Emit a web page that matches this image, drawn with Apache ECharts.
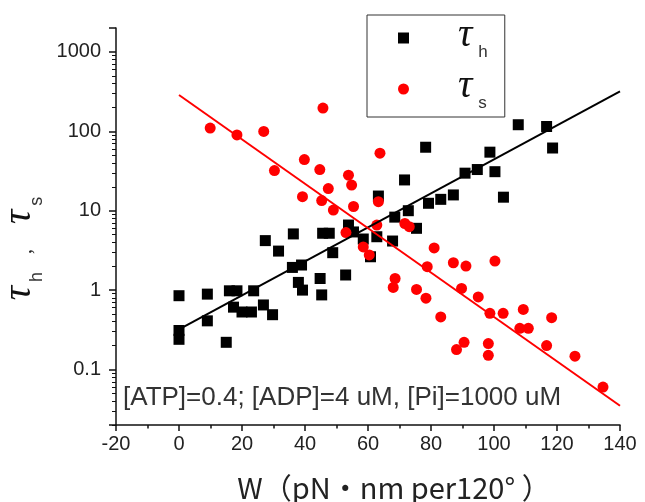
<!DOCTYPE html>
<html>
<head>
<meta charset="utf-8">
<script src="https://cdn.jsdelivr.net/npm/echarts@6/dist/echarts.min.js"></script>
<style>
  html, body { margin: 0; padding: 0; background: #fff; }
  #chart { width: 645px; height: 502px; }
</style>
</head>
<body>
<div id="chart"></div>
<script>
// x axis tick values (work per step, pN·nm per 120°)
const xTickValues = [-20, 0, 20, 40, 60, 80, 100, 120, 140];
// y axis (log) decade labels and range
const yTickLabels = [0.1, 1, 10, 100, 1000];
const yRange = [0.02, 2000];

// τh : [W, time]
const tauH = [
  [0, 0.85], [0, 0.31], [0, 0.24], [9, 0.89], [9, 0.41], [15, 0.22],
  [16, 0.98], [18.4, 0.98], [23.7, 0.98], [17.3, 0.61], [20, 0.53], [23, 0.53],
  [26.8, 0.65], [29.7, 0.49], [27.4, 4.2], [31.6, 3.1], [36.3, 5.1], [36, 1.93],
  [38.9, 2.07], [37.9, 1.25], [39.2, 1.0], [44.8, 1.4], [45.3, 0.87], [45.6, 5.2],
  [47.7, 5.2], [48.8, 2.96], [52.9, 1.55], [53.8, 6.6], [55.4, 5.4], [58.5, 4.4],
  [62.8, 4.7], [60.8, 2.63], [67.8, 4.15], [63.3, 15.3], [68.5, 8.3], [72.8, 10],
  [75.4, 6.0], [71.6, 24.4], [78.3, 63], [79.2, 12.4], [83.1, 13.9], [87.1, 15.8],
  [90.8, 29.7], [94.7, 33], [98.7, 54.6], [100.3, 31], [103, 14.8], [107.7, 121],
  [116.7, 115], [118.6, 61.6]
];

// τs : [W, time]
const tauS = [
  [9.9, 110], [18.4, 90], [26.9, 99.5], [30.3, 32], [39.8, 44], [39.2, 15],
  [45.7, 196], [44.7, 33], [47.4, 19], [45.3, 13.4], [49, 10.2], [53.8, 28],
  [54.8, 21], [55.4, 11.3], [53, 5.3], [58.5, 3.5], [60.4, 2.77], [63.8, 53],
  [63.3, 13], [62.8, 6.6], [71.7, 6.9], [73.1, 6.3], [81, 3.4], [78.8, 1.97],
  [87.1, 2.21], [91.1, 2.01], [100.3, 2.32], [68.6, 1.4], [68, 1.08], [75.4, 1.02],
  [78.4, 0.79], [89.7, 1.05], [95, 0.82], [83.1, 0.46], [98.7, 0.51], [102.9, 0.51],
  [109.3, 0.57], [118.3, 0.45], [108.2, 0.33], [110.9, 0.33], [116.7, 0.2],
  [125.7, 0.147], [134.6, 0.06], [90.5, 0.22], [88.1, 0.178], [98.2, 0.212], [98.2, 0.151]
];

// exponential fits (straight on the log axis)
const tauHFit = [[0, 0.32], [140, 318]];
const tauSFit = [[0, 287], [140, 0.035]];

const conditionText = '[ATP]=0.4; [ADP]=4 uM, [Pi]=1000 uM';

const chart = echarts.init(document.getElementById('chart'), null, { renderer: 'canvas' });

// τ sits at the top of a 46px line, the subscript at its bottom
const tauStyle = {
  fontFamily: 'Liberation Serif', fontStyle: 'italic', fontSize: 40,
  height: 40, lineHeight: 40, verticalAlign: 'top', color: '#111'
};
const subStyle = {
  fontFamily: 'Liberation Sans', fontSize: 17, height: 17, lineHeight: 46,
  verticalAlign: 'bottom', color: '#333', padding: [0, 0, 0, 6]
};

chart.setOption({
  animation: false,
  backgroundColor: '#fff',
  grid: { left: 116, right: 25, top: 28, bottom: 77, containLabel: false, outerBoundsMode: 'none' },
  legend: {
    data: ['τh', 'τs'],
    orient: 'vertical',
    left: 367,
    top: 15,
    itemWidth: 11,
    itemHeight: 11,
    itemGap: 5,
    padding: [0, 17, 5, 31],
    borderColor: '#333',
    borderWidth: 1,
    backgroundColor: '#fff',
    formatter: function (name) {
      return name === 'τh' ? '{t|τ}{s|h}' : '{t|τ}{s|s}';
    },
    textStyle: {
      rich: {
        t: Object.assign({}, tauStyle, { padding: [0, 0, 0, 44] }),
        s: subStyle
      }
    }
  },
  xAxis: {
    type: 'value',
    min: xTickValues[0],
    max: xTickValues[xTickValues.length - 1],
    interval: xTickValues[1] - xTickValues[0],
    name: 'W（pN・nm per120° ）',
    nameLocation: 'middle',
    nameGap: 48,
    nameTextStyle: { fontFamily: 'Noto Sans CJK JP', fontSize: 29, color: '#222', padding: [0, 0, 0, 52] },
    axisLine: { show: true, onZero: false, lineStyle: { color: '#111', width: 1.5 } },
    axisTick: { show: true, length: 6, lineStyle: { color: '#111', width: 1.5 } },
    minorTick: { show: true, splitNumber: 2, length: 3.5, lineStyle: { color: '#111', width: 1.5 } },
    splitLine: { show: false },
    axisLabel: { fontFamily: 'Liberation Sans', fontSize: 20, color: '#222', margin: 9 }
  },
  yAxis: {
    type: 'log',
    logBase: 10,
    min: yRange[0],
    max: yRange[1],
    name: '{t|τ}{s|h}{c|,}{t|τ}{s|s}',
    nameLocation: 'middle',
    nameGap: 70,
    nameTextStyle: {
      padding: [0, 44, 0, 0],
      rich: {
        t: tauStyle,
        s: Object.assign({}, subStyle, { fontSize: 18, height: 18, padding: [0, 0, 0, 4] }),
        c: {
          fontFamily: 'Liberation Serif', fontSize: 20, height: 20, lineHeight: 46,
          verticalAlign: 'top', color: '#222', padding: [16, 25, 0, 18]
        }
      }
    },
    axisLine: { show: true, onZero: false, lineStyle: { color: '#111', width: 1.5 } },
    axisTick: { show: true, length: 7, lineStyle: { color: '#111', width: 1.5 } },
    minorTick: { show: true, splitNumber: 9, length: 4, lineStyle: { color: '#111', width: 1 } },
    splitLine: { show: false },
    minorSplitLine: { show: false },
    axisLabel: {
      fontFamily: 'Liberation Sans', fontSize: 20, color: '#222', margin: 15,
      formatter: function (v) {
        const hit = yTickLabels.find(function (t) { return Math.abs(t - v) / t < 1e-6; });
        return hit !== undefined ? String(hit) : '';
      }
    }
  },
  graphic: [{
    type: 'text',
    left: 123,
    top: 385,
    style: { text: conditionText, font: '26px "Liberation Sans"', fill: '#333' },
    z: 10
  }],
  series: [
    { name: 'τh', type: 'scatter', data: tauH, symbol: 'rect', symbolSize: 11, itemStyle: { color: '#000', opacity: 1 }, z: 2 },
    { name: 'τs', type: 'scatter', data: tauS, symbol: 'circle', symbolSize: 11, itemStyle: { color: '#ff0000', opacity: 1 }, z: 3 },
    { name: 'τh fit', type: 'line', data: tauHFit, symbol: 'none', lineStyle: { color: '#000', width: 2 }, z: 4 },
    { name: 'τs fit', type: 'line', data: tauSFit, symbol: 'none', lineStyle: { color: '#ff0000', width: 2 }, z: 5 }
  ]
});
</script>
</body>
</html>
